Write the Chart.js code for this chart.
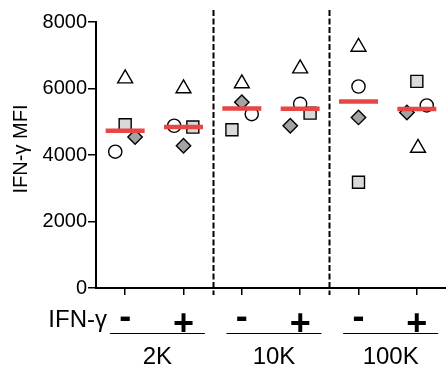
<!DOCTYPE html>
<html>
<head>
<meta charset="utf-8">
<script src="https://cdn.jsdelivr.net/npm/chart.js@4/dist/chart.umd.min.js"></script>
<style>
html,body{margin:0;padding:0;background:#fff;}
#wrap{width:446px;height:366px;position:relative;}
</style>
</head>
<body>
<div id="wrap"><canvas id="c" width="446" height="366"></canvas></div>
<script>
// ---- data ----
const groups = ['2K', '10K', '100K'];
const treatments = ['-', '+'];
const yTicks = [0, 2000, 4000, 6000, 8000];
const yTitle = 'IFN-\u03b3 MFI';
const xTitle = 'IFN-\u03b3';

// one value per column: 2K-, 2K+, 10K-, 10K+, 100K-, 100K+
const triangleVals = [6300, 6000, 6150, 6600, 7250, 4210];
const circleVals   = [4100, 4880, 5230, 5540, 6060, 5490];
const squareVals   = [4910, 4840, 4760, 5260, 3180, 6215];
const diamondVals  = [4540, 4280, 5590, 4880, 5130, 5280];
const medianVals   = [4730, 4840, 5400, 5390, 5610, 5380];

// horizontal scatter of points inside a column (layout only)
const jitter = {
  triangle: [0, 0, 0, 0, 0, 0.02],
  circle:   [-0.17, -0.16, 0.17, 0, 0, 0.17],
  square:   [0, 0.16, -0.17, 0.17, 0, 0],
  diamond:  [0.17, 0, 0, -0.17, 0, -0.17]
};

const FONT = "'Liberation Sans', Arial, Helvetica, sans-serif";
const columns = [];
groups.forEach(() => treatments.forEach(() => columns.push(columns.length)));

function pts(vals, jit) {
  return vals.map((v, i) => ({ x: columns[i] + (jit ? jit[i] : 0), y: v }));
}

const decor = {
  id: 'decor',
  afterDraw(chart) {
    const ctx = chart.ctx;
    const xs = chart.scales.x;
    const ca = chart.chartArea;
    ctx.save();
    // dashed separators between groups
    ctx.strokeStyle = '#000';
    ctx.lineWidth = 2;
    ctx.setLineDash([6, 2.5]);
    for (let g = 1; g < groups.length; g++) {
      const px = Math.round(xs.getPixelForValue(g * treatments.length - 0.5)) + 0.5;
      ctx.beginPath();
      ctx.moveTo(px, 10);
      ctx.lineTo(px, ca.bottom + 7);
      ctx.stroke();
    }
    ctx.setLineDash([]);
    // treatment signs
    ctx.fillStyle = '#000';
    ctx.textAlign = 'center';
    ctx.textBaseline = 'alphabetic';
    columns.forEach(i => {
      const t = treatments[i % treatments.length];
      const px = xs.getPixelForValue(i);
      ctx.font = 'bold 36px ' + FONT;
      ctx.fillText(t, px, t === '+' ? ca.bottom + 47 : ca.bottom + 40);
    });
    // group underline + labels
    ctx.lineWidth = 1.2;
    ctx.font = '24px ' + FONT;
    groups.forEach((g, gi) => {
      const a = xs.getPixelForValue(gi * 2);
      const b = xs.getPixelForValue(gi * 2 + 1);
      const mid = (a + b) / 2 + 3;
      ctx.beginPath();
      ctx.moveTo(mid - 47.5, ca.bottom + 45.5);
      ctx.lineTo(mid + 47.5, ca.bottom + 45.5);
      ctx.stroke();
      ctx.fillText(g, mid, ca.bottom + 76);
    });
    // row label
    ctx.textAlign = 'right';
    ctx.fillText(xTitle, 107, ca.bottom + 39);
    // y title
    ctx.translate(21, 149);
    ctx.rotate(-Math.PI / 2);
    ctx.textAlign = 'center';
    ctx.textBaseline = 'middle';
    ctx.font = '20px ' + FONT;
    ctx.fillText(yTitle, 0, 0);
    ctx.restore();
  }
};

const common = { showLine: false, borderColor: '#000', borderWidth: 1.4, order: 1 };

new Chart(document.getElementById('c'), {
  type: 'scatter',
  data: {
    datasets: [
      { label: 'median', data: pts(medianVals), pointStyle: 'line', pointRadius: 19.5,
        borderColor: '#e84545', borderWidth: 4.5, showLine: false, order: 0 },
      Object.assign({ label: 'triangle', data: pts(triangleVals, jitter.triangle), pointStyle: 'triangle',
        pointRadius: 8.6, backgroundColor: '#fff' }, common),
      Object.assign({ label: 'circle', data: pts(circleVals, jitter.circle), pointStyle: 'circle',
        pointRadius: 6.6, backgroundColor: '#fff' }, common),
      Object.assign({ label: 'square', data: pts(squareVals, jitter.square), pointStyle: 'rect',
        pointRadius: 8.5, backgroundColor: '#d9d9d9' }, common),
      Object.assign({ label: 'diamond', data: pts(diamondVals, jitter.diamond), pointStyle: 'rectRot',
        pointRadius: 7.2, backgroundColor: '#a3a3a3' }, common)
    ]
  },
  options: {
    responsive: false,
    animation: false,
    events: [],
    layout: { autoPadding: false, padding: { top: 22, right: 0, bottom: 0, left: 0 } },
    plugins: { legend: { display: false }, tooltip: { enabled: false } },
    scales: {
      x: {
        type: 'linear', min: -0.5, max: columns.length - 0.5,
        afterBuildTicks: s => { s.ticks = columns.map(v => ({ value: v })); },
        afterFit: s => { s.height = 78; },
        ticks: { display: false },
        grid: { display: true, drawOnChartArea: false, drawTicks: true, tickLength: 7, color: '#000', lineWidth: 1.5 },
        border: { display: true, color: '#000', width: 2 }
      },
      y: {
        min: 0, max: 8000,
        afterBuildTicks: s => { s.ticks = yTicks.map(v => ({ value: v })); },
        afterFit: s => { s.width = 96; },
        ticks: { color: '#000', font: { family: FONT, size: 20 }, padding: 1, callback: v => String(v) },
        grid: { display: true, drawOnChartArea: false, drawTicks: true, tickLength: 8, color: '#000', lineWidth: 1.5 },
        border: { display: true, color: '#000', width: 2 }
      }
    }
  },
  plugins: [decor]
});
</script>
</body>
</html>
